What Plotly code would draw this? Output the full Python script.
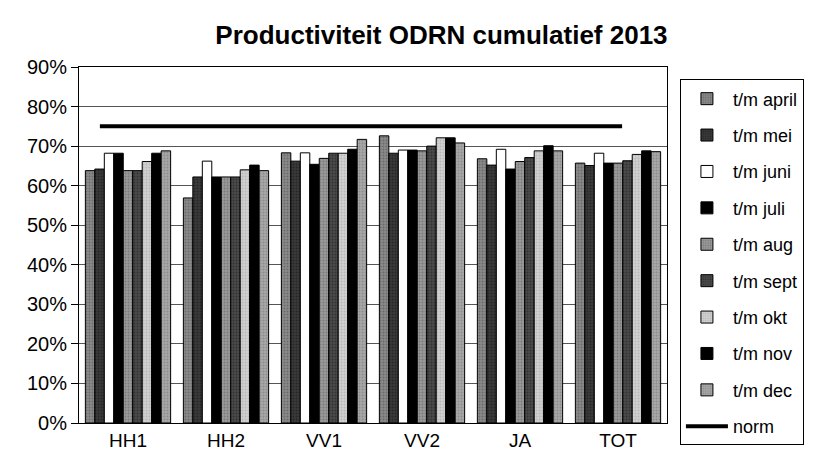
import plotly.graph_objects as go

categories = ["HH1", "HH2", "VV1", "VV2", "JA", "TOT"]
series_names = ["t/m april", "t/m mei", "t/m juni", "t/m juli", "t/m aug",
                "t/m sept", "t/m okt", "t/m nov", "t/m dec"]
april = [63.8, 56.9, 68.3, 72.6, 66.8, 65.7]
mei = [64.2, 62.2, 66.2, 68.2, 65.2, 65.1]
juni = [68.2, 66.2, 68.3, 69.0, 69.2, 68.2]
juli = [68.2, 62.2, 65.4, 69.0, 64.2, 65.7]
aug = [63.8, 62.2, 66.9, 68.8, 66.1, 65.7]
sept = [63.8, 62.2, 68.2, 70.0, 67.1, 66.3]
okt = [66.1, 64.0, 68.2, 72.1, 68.8, 67.9]
nov = [68.2, 65.2, 69.2, 72.1, 70.1, 68.8]
dec = [68.8, 63.8, 71.7, 70.8, 68.8, 68.6]
norm = [75, 75, 75, 75, 75, 75]
y_ticks = [0, 10, 20, 30, 40, 50, 60, 70, 80, 90]

values = [april, mei, juni, juli, aug, sept, okt, nov, dec]
fills = ["#8a8a8a", "#3a3a3a", "#ffffff", "#000000", "#9a9a9a",
         "#4a4a4a", "#d0d0d0", "#000000", "#a8a8a8"]
pattern_fg = ["#4a4a4a", "#111111", None, None, "#5a5a5a",
              "#1a1a1a", "#a0a0a0", None, "#707070"]

FONT = "Arial, Liberation Sans, sans-serif"
fig = go.Figure()
for i, (name, vals) in enumerate(zip(series_names, values)):
    pat = dict(shape="") if pattern_fg[i] is None else dict(
        shape=".", fgcolor=pattern_fg[i], bgcolor=fills[i], size=3, solidity=0.35)
    fig.add_trace(go.Bar(
        x=categories, y=[v / 100 for v in vals], name=name,
        marker=dict(color=fills[i], line=dict(color="black", width=1), pattern=pat),
        legendgroup=name,
    ))

fig.add_trace(go.Scatter(
    x=categories, y=[v / 100 for v in norm], name="norm", mode="lines",
    line=dict(color="black", width=4), xaxis="x2", legendgroup="norm",
))

fig.update_layout(
    width=833, height=463,
    margin=dict(l=79, r=166, t=67, b=38),
    paper_bgcolor="white", plot_bgcolor="white",
    barmode="group", bargap=0.13, bargroupgap=0,
    font=dict(family=FONT, size=16, color="black"),
    title=dict(text="<b>Productiviteit ODRN cumulatief 2013</b>",
               x=0.53, xref="container", xanchor="center",
               y=0.924, yref="container", yanchor="middle",
               font=dict(size=26, family=FONT)),
    xaxis=dict(showline=True, linecolor="black", mirror=True, ticks="",
               tickfont=dict(size=19), range=[-0.5, 5.5]),
    xaxis2=dict(overlaying="x", range=[-0.2, 5.43], visible=False,
                type="category", categoryarray=categories),
    yaxis=dict(range=[0, 0.9], tickvals=[t / 100 for t in y_ticks],
               ticktext=[f"{t}%" for t in y_ticks],
               showline=True, linecolor="black", mirror=True,
               ticks="outside", ticklen=7, tickcolor="black",
               showgrid=True, gridcolor="#555555", gridwidth=1,
               tickfont=dict(size=20)),
    legend=dict(x=1.022, xanchor="left", y=0.965, yanchor="top",
                bordercolor="black", borderwidth=1, bgcolor="white",
                font=dict(size=18), traceorder="grouped", tracegroupgap=10,
                itemwidth=42, maxheight=420, entrywidth=140,
                entrywidthmode="pixels"),
    showlegend=True,
)
fig.write_html("out.html", config={"displayModeBar": False},
               post_script="document.body.style.margin='0';")
